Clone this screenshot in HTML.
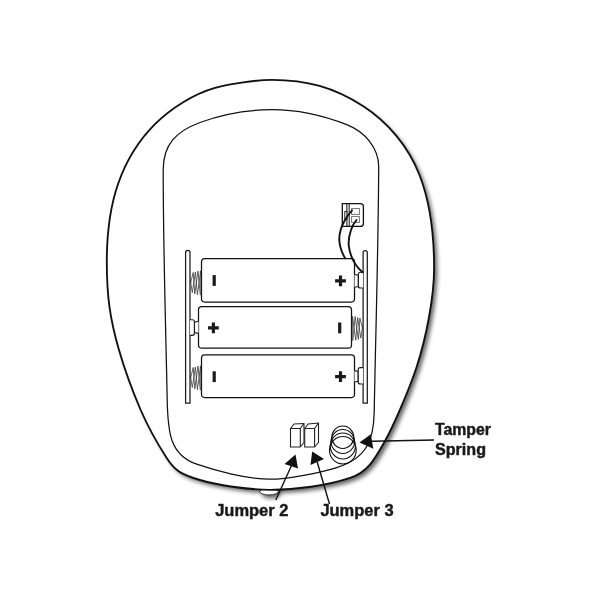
<!DOCTYPE html>
<html><head><meta charset="utf-8"><title>Jumper diagram</title>
<style>
html,body{margin:0;padding:0;background:#fff;}
svg{display:block;}
text{font-family:"Liberation Sans",Arial,Helvetica,sans-serif;font-weight:bold;font-size:16px;fill:#1a1a1a;}
</style></head><body>
<svg width="600" height="600" viewBox="0 0 600 600">
<defs>
<filter id="sh" x="-10%" y="-10%" width="120%" height="120%"><feGaussianBlur stdDeviation="2.1"/></filter>
</defs>
<rect width="600" height="600" fill="#fff"/>
<!-- shadow -->
<g filter="url(#sh)" opacity="0.6">
<path d="M272.00 79.90 C306.35 79.90 333.95 87.26 363.30 106.30 C388.12 122.40 408.57 146.98 419.50 175.00 C430.48 203.16 434.10 237.30 434.10 268.00 C434.10 296.72 426.39 337.09 416.70 366.70 C409.24 389.49 393.24 426.48 384.30 442.20 C374.01 460.31 367.50 472.00 350.00 477.90 C327.30 485.56 295.81 489.80 270.00 489.80 C250.22 489.80 218.53 485.56 200.00 480.00 C182.13 474.64 175.44 471.68 166.70 458.00 C157.35 443.37 149.09 429.48 140.70 410.00 C132.55 391.10 124.81 370.17 119.00 350.00 C109.87 318.31 106.80 295.74 106.80 262.00 C106.80 234.24 109.15 209.35 118.30 183.30 C126.04 161.27 138.46 140.67 155.00 124.20 C171.14 108.13 193.98 93.89 215.00 87.90 C229.98 83.63 256.60 79.90 272.00 79.90Z" fill="#000" transform="translate(3.3,3.4)"/>
<ellipse cx="269.5" cy="491.5" rx="9.5" ry="4" fill="#000" transform="translate(2,3)"/>
</g>
<!-- bump -->
<ellipse cx="269" cy="491.6" rx="9.2" ry="3.3" fill="#fff" stroke="#111" stroke-width="0.8"/>
<!-- body -->
<path d="M272.00 79.90 C306.35 79.90 333.95 87.26 363.30 106.30 C388.12 122.40 408.57 146.98 419.50 175.00 C430.48 203.16 434.10 237.30 434.10 268.00 C434.10 296.72 426.39 337.09 416.70 366.70 C409.24 389.49 393.24 426.48 384.30 442.20 C374.01 460.31 367.50 472.00 350.00 477.90 C327.30 485.56 295.81 489.80 270.00 489.80 C250.22 489.80 218.53 485.56 200.00 480.00 C182.13 474.64 175.44 471.68 166.70 458.00 C157.35 443.37 149.09 429.48 140.70 410.00 C132.55 391.10 124.81 370.17 119.00 350.00 C109.87 318.31 106.80 295.74 106.80 262.00 C106.80 234.24 109.15 209.35 118.30 183.30 C126.04 161.27 138.46 140.67 155.00 124.20 C171.14 108.13 193.98 93.89 215.00 87.90 C229.98 83.63 256.60 79.90 272.00 79.90Z" fill="#fff" stroke="#111" stroke-width="1.85"/>
<path d="M163.20 170.00 C163.20 143.83 176.75 131.18 200.00 122.50 C224.85 113.22 246.91 109.70 272.00 109.70 C297.51 109.70 322.95 115.46 346.70 124.70 C364.89 131.78 378.79 148.05 378.70 167.00 C378.29 248.28 375.72 331.88 374.20 412.00 C373.68 439.37 367.32 458.03 336.70 467.60 C320.35 472.71 287.36 479.20 270.00 479.20 C246.87 479.20 215.18 470.55 196.70 464.20 C169.60 454.88 167.83 431.62 167.20 400.00 C165.67 323.60 163.20 247.27 163.20 170.00Z" fill="none" stroke="#111" stroke-width="1.25"/>

<!-- rails -->
<g fill="#fff" stroke="#1a1a1a" stroke-width="1.25">
<path d="M185.6 403.2V252.6a2.2 2.2 0 0 1 4.4 0V403.2Z"/>
<path d="M363.1 403.2V252.6a2.1 2.1 0 0 1 4.2 0V403.2Z"/>
</g>

<!-- batteries -->
<g fill="#fff" stroke="#111" stroke-width="1.25">
<rect x="201.5" y="258.5" width="153" height="43.5" rx="3.2"/>
<rect x="198.5" y="306.6" width="153" height="41.6" rx="3.2"/>
<rect x="201.5" y="354.8" width="153" height="42.7" rx="3.2"/>
</g>
<!-- terminals -->
<g fill="#fff" stroke="#1a1a1a" stroke-width="1.15">
<!-- battery1 right -->
<path d="M354.5 274.5L358.4 275.3V286.5L354.5 287.3"/>
<path d="M363.1 272.2H360.4a2 2 0 0 0 -2 2V286a2 2 0 0 0 2 2H363.1"/>
<!-- battery2 left -->
<path d="M198.5 321.3L194.4 322.2V332.6L198.5 333.4"/>
<path d="M190 319.7H192.4a2 2 0 0 1 2 2V333.3a2 2 0 0 1 -2 2H190"/>
<!-- battery3 right -->
<path d="M354.5 370.6L358.2 371.4V381.2L354.5 382"/>
<path d="M363.1 367.6H360.2a2 2 0 0 0 -2 2V382a2 2 0 0 0 2 2H363.1"/>
</g>
<!-- springs -->
<g fill="none" stroke="#3a3a3a" stroke-width="0.8" stroke-linejoin="round">
<path d="M190.3 284.0L193.2 272.5L194.8 293.8L198.0 271.0L200.3 295.2"/>
<path d="M190.3 280.0L192.3 292.5L195.4 272.0L197.4 294.6L200.6 270.8L200.9 295.0"/>
<path d="M190.3 379.0L193.2 367.5L194.8 388.8L198.0 366.0L200.3 390.2"/>
<path d="M190.3 375.0L192.3 387.5L195.4 367.0L197.4 389.6L200.6 365.8L200.9 390.0"/>
<path d="M362.8 329.6L359.9 318.1L358.3 339.4L355.1 316.6L352.8 340.8"/>
<path d="M362.8 325.6L360.8 338.1L357.7 317.6L355.7 340.2L352.5 316.4L352.2 340.6"/>
</g>
<!-- polarity marks -->
<g fill="#1a1a1a">
<rect x="212.6" y="275.1" width="3.2" height="10.8"/>
<rect x="338.1" y="322.5" width="3.2" height="10.8"/>
<rect x="212.6" y="371.3" width="3.2" height="10.8"/>
<path d="M208 326.3h3.8v-3.8h3.2v3.8h3.8v3.2h-3.8v3.8h-3.2v-3.8h-3.8z"/>
<path d="M335.1 279.2h3.8v-3.8h3.2v3.8h3.8v3.2h-3.8v3.8h-3.2v-3.8h-3.8z"/>
<path d="M335.1 375.1h3.8v-3.8h3.2v3.8h3.8v3.2h-3.8v3.8h-3.2v-3.8h-3.8z"/>
</g>

<!-- connector -->
<g fill="#fff" stroke="#111" stroke-width="1.3">
<path d="M342.3 203.6H360.4a3 3 0 0 1 3 3V223.4a3 3 0 0 1 -3 3H342.3Z"/>
<path d="M346.9 203.6V226.4M349.2 203.6V226.4" fill="none" stroke-width="1"/>
<rect x="344.8" y="211.5" width="2.1" height="8" stroke-width="0.9"/>
</g>
<g fill="#fff" stroke="#666" stroke-width="0.9">
<rect x="351.6" y="208.6" width="7.8" height="5.8"/>
<rect x="351.6" y="216.6" width="7.8" height="5.8"/>
</g>
<!-- wires -->
<g fill="none" stroke="#111" stroke-width="1.9" stroke-linecap="round">
<path d="M352 210.5C349 214 346.5 217 345 220C341 227 339 233 339.3 240C339.6 247 342 253 345.2 258.3"/>
<path d="M356.5 220C354 223 352 226.5 351 230C349 236 348.2 241 348.8 246C350 255 354 265 362.6 272.3"/>
</g>

<!-- jumpers -->
<g fill="#fff" stroke="#222" stroke-width="1.1" stroke-linejoin="round">
<path d="M290.5 428.5L294 424L304 423.5V442.5L300.3 447H290.5Z"/>
<path d="M290.5 428.5H300.3V447M300.3 428.5L304 423.5" fill="none"/>
<path d="M304.7 428.5L308 424L318.5 423V442.5L314.6 447H304.7Z"/>
<path d="M304.7 428.5H314.6V447M314.6 428.5L318.5 423" fill="none"/>
</g>
<!-- tamper spring coil -->
<g fill="none" stroke="#111" stroke-width="1.1">
<ellipse cx="342.8" cy="437.25" rx="11" ry="11.25"/>
<ellipse cx="342.8" cy="441.5" rx="11.8" ry="12"/>
<ellipse cx="342.85" cy="446" rx="12.6" ry="13"/>
<ellipse cx="342.85" cy="450.25" rx="13.35" ry="13.75"/>
</g>

<!-- arrows -->
<g stroke="#111" stroke-width="1.4" fill="#111">
<path d="M291.3 466L275.8 500" fill="none"/>
<path d="M295.5 454.5L284.5 464L298 468.5Z" stroke="none"/>
<path d="M317.2 462L328.3 500L329.5 504" fill="none"/>
<path d="M312.2 451.5L310.5 465L324 459Z" stroke="none"/>
<path d="M372 441.3L434 440" fill="none"/>
<path d="M359.5 442.5L370.8 434.2L373.3 448.7Z" stroke="none"/>
</g>

<!-- labels -->
<g opacity="0.999" stroke="#1a1a1a" stroke-width="0.45" stroke-linejoin="round">
<text x="435" y="434.7" textLength="56" lengthAdjust="spacingAndGlyphs">Tamper</text>
<text x="435" y="454.7" textLength="51" lengthAdjust="spacingAndGlyphs">Spring</text>
<text x="215.2" y="516" textLength="73.2" lengthAdjust="spacingAndGlyphs">Jumper 2</text>
<text x="320.4" y="516" textLength="73.2" lengthAdjust="spacingAndGlyphs">Jumper 3</text>
</g>
</svg>
</body></html>
